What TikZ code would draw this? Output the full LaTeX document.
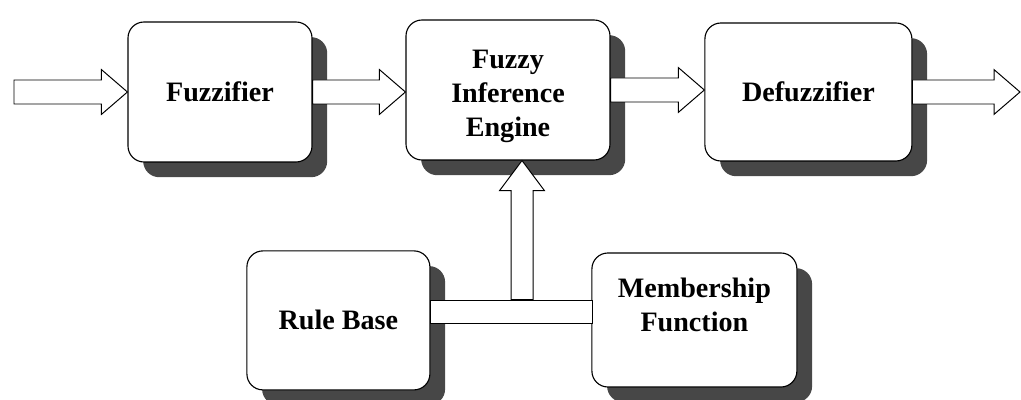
\documentclass[tikz,border=0pt]{standalone}
\usepackage{fontspec}
\setmainfont{Liberation Serif}
\usetikzlibrary{calc, shadows, positioning}
\tikzset{
  stage_box/.style={rectangle, draw=black, line width=0.8pt, fill=white, rounded corners=4mm, align=center, font=\fontsize{20}{24}\selectfont\bfseries, drop shadow={shadow xshift=0.38cm, shadow yshift=-0.38cm, fill=black!72, opacity=1}},
  link_bar/.style={rectangle, draw=black, line width=0.7pt, fill=white, minimum height=0.575cm, inner sep=0pt},
  fat_arrow_h/.style={draw=black, line width=0.7pt, fill=white,
    to path={let \p1=(\tikztostart), \p2=(\tikztotarget) in
      (\x1,\y1+0.3cm) -- (\x2-0.65cm,\y1+0.3cm) -- (\x2-0.65cm,\y1+0.56cm) -- (\x2,\y1)
      -- (\x2-0.65cm,\y1-0.56cm) -- (\x2-0.65cm,\y1-0.3cm) -- (\x1,\y1-0.3cm) -- cycle}},
  fat_arrow_v/.style={draw=black, line width=0.7pt, fill=white,
    to path={let \p1=(\tikztostart), \p2=(\tikztotarget) in
      (\x1+0.275cm,\y1) -- (\x1+0.275cm,\y2-0.75cm) -- (\x1+0.56cm,\y2-0.75cm) -- (\x1,\y2)
      -- (\x1-0.56cm,\y2-0.75cm) -- (\x1-0.275cm,\y2-0.75cm) -- (\x1-0.275cm,\y1) -- cycle}}
}

\begin{document}
\begin{tikzpicture}
    \useasboundingbox (0,0) rectangle (25.525,-10);

    % Processing stages, placed at absolute positions
    \node[stage_box, minimum width=4.6cm, minimum height=3.5cm] (fuzzifier) at (5.5,-2.3) {Fuzzifier};
    \node[stage_box, minimum width=5.1cm, minimum height=3.5cm, text height=66pt, text depth=0pt] (inference) at (12.7,-2.25) {Fuzzy\\Inference\\Engine};
    \node[stage_box, minimum width=5.175cm, minimum height=3.45cm] (defuzzifier) at (20.21,-2.3) {Defuzzifier};
    \node[stage_box, minimum width=4.575cm, minimum height=3.475cm] (rule_base) at (8.46,-8.01) {Rule Base};
    \node[stage_box, minimum width=5.125cm, minimum height=3.35cm, text depth=0.75cm] (membership) at (17.36,-8.0) {Membership\\Function};

    % Bar joining the two knowledge blocks
    \node[link_bar, minimum width=4.05cm] (link) at (12.775,-7.79) {};

    \coordinate (input) at (0.35,-2.3);
    \coordinate (output) at (25.5,-2.3);

    % Block arrows
    \draw[fat_arrow_h] (input) to (fuzzifier.west);
    \draw[fat_arrow_h] (fuzzifier.east) to (inference.west);
    \draw[fat_arrow_h] (inference.east) to (defuzzifier.west);
    \draw[fat_arrow_h] (defuzzifier.east) to (output);
    \draw[fat_arrow_v] ([xshift=0.275cm]link.north) to ([xshift=0.275cm]link.north |- inference.south);
\end{tikzpicture}
\end{document}
